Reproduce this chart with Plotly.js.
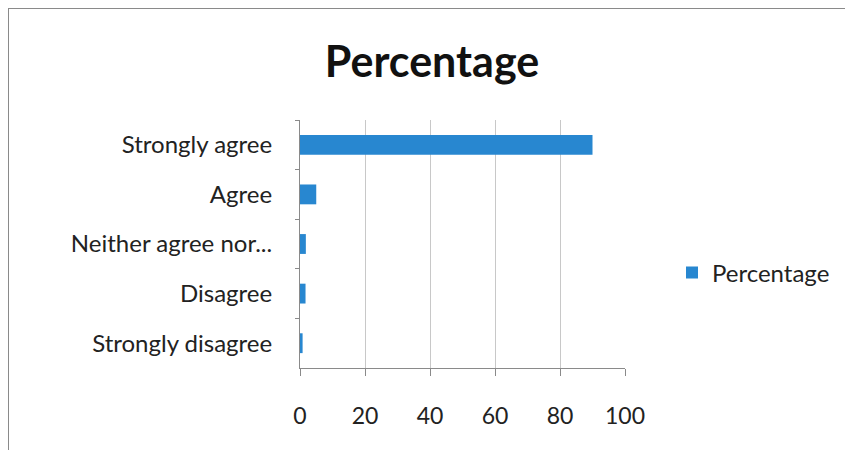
<!DOCTYPE html>
<html>
<head>
<meta charset="utf-8">
<script src="https://cdn.plot.ly/plotly-3.0.1.min.js"></script>
<style>
  html, body { margin: 0; padding: 0; background: #fff; }
  #wrap { position: relative; width: 845px; height: 450px; overflow: hidden; }
  #chart { width: 845px; height: 450px; }
  #frame { position: absolute; left: 8px; top: 8px; width: 900px; height: 500px;
           border-left: 1.5px solid #8a8a8a; border-top: 1.5px solid #8a8a8a; pointer-events: none; }
</style>
</head>
<body>
<div id="wrap">
  <div id="chart"></div>
  <div id="frame"></div>
</div>
<script>
const categories = ["Strongly agree", "Agree", "Neither agree nor...", "Disagree", "Strongly disagree"];
const percentage = [90, 5, 1.8, 1.7, 0.8];
const seriesName = "Percentage";
const xTicks = [0, 20, 40, 60, 80, 100];

const FONT = "Lato, 'Open Sans', sans-serif";

const trace = {
  type: "bar",
  orientation: "h",
  y: categories,
  x: percentage,
  name: seriesName,
  marker: { color: "#2887d0" },
  width: 0.4,
  showlegend: true,
  hoverinfo: "x+y"
};

const layout = {
  width: 845,
  height: 450,
  paper_bgcolor: "#ffffff",
  plot_bgcolor: "#ffffff",
  margin: { l: 300, r: 220, t: 120, b: 82 },
  font: { family: FONT, color: "#222222", size: 23 },
  title: {
    text: "<b>Percentage</b>",
    font: { family: FONT, size: 43, color: "#111111" },
    xref: "paper", x: (432 - 300) / 325, xanchor: "center",
    yref: "container", y: 1 - 62 / 450, yanchor: "middle"
  },
  xaxis: {
    range: [0, 100],
    tickvals: xTicks,
    ticktext: xTicks.map(String),
    showgrid: true,
    gridcolor: "#c8c8c8",
    gridwidth: 1,
    zeroline: false,
    showline: true,
    linecolor: "#8a8a8a",
    linewidth: 1,
    ticks: "outside",
    ticklen: 7,
    tickcolor: "#8a8a8a",
    ticklabelstandoff: 20,
    tickfont: { family: FONT, size: 23, color: "#222222" }
  },
  yaxis: {
    type: "category",
    autorange: "reversed",
    showgrid: false,
    zeroline: false,
    showline: true,
    linecolor: "#8a8a8a",
    linewidth: 1,
    ticks: "outside",
    tickson: "boundaries",
    ticklen: 4,
    tickcolor: "#8a8a8a",
    ticklabelstandoff: 22,
    tickfont: { family: FONT, size: 24, color: "#222222" }
  },
  legend: {
    xref: "container", x: 672 / 845, xanchor: "left",
    yref: "container", y: 1 - 273 / 450, yanchor: "middle",
    font: { family: FONT, size: 24, color: "#222222" },
    itemwidth: 30,
    bgcolor: "rgba(0,0,0,0)"
  },
  bargap: 0.6
};

Plotly.newPlot("chart", [trace], layout, { displayModeBar: false, staticPlot: true });
</script>
</body>
</html>
